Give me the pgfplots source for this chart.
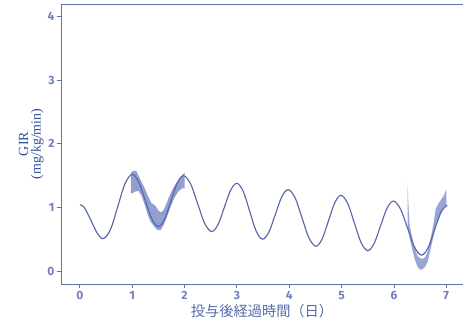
\documentclass[border=0pt]{standalone}
\usepackage{fontspec}
\setmainfont{Liberation Serif}
\newfontfamily\tickfont{Fira Sans}
\newfontfamily\cjk{Noto Sans CJK JP}
\usepackage{pgfplots}
\pgfplotsset{compat=1.18}
\definecolor{lineC}{HTML}{5868AA}
\definecolor{bandC}{HTML}{7787C5}
\definecolor{axisC}{HTML}{5F6FAD}
\definecolor{tickC}{HTML}{7080BA}
\definecolor{ylabC}{HTML}{2F4D9E}
\definecolor{xlabC}{HTML}{5668A8}
\begin{document}
\begin{tikzpicture}
\begin{axis}[
  scale only axis, width=402bp, height=280bp,
  xmin=-0.36, xmax=7.32, ymin=-0.204, ymax=4.198,
  axis x line*=box, axis y line*=left,
  xtick pos=lower, ytick pos=left,
  axis line style={axisC, line width=0.9pt},
  xtick={0,1,2,3,4,5,6,7}, ytick={0,1,2,3,4},
  tick align=outside, major tick length=4bp,
  tick style={axisC, line width=0.8pt},
  /pgf/number format/assume math mode=true,
  ticklabel style={font=\tickfont\bfseries\fontsize{12}{13}\selectfont, text=tickC},
  yticklabel style={xshift=1bp},
  xlabel={\cjk 投与後経過時間（日）},
  xlabel style={font=\fontsize{14.3}{16}\selectfont, text=xlabC, yshift=3bp},
  ylabel={GIR\\(mg/kg/min)},
  ylabel style={align=center, font=\fontsize{14}{12.5}\selectfont, text=ylabC, yshift=-3bp},
  clip=true,
]
% band 1
\addplot[fill=bandC, fill opacity=0.8, draw=none] coordinates {
(0.975,1.55) (1.03,1.58) (1.08,1.57) (1.12,1.50) (1.18,1.40) (1.24,1.30) (1.30,1.18) (1.36,1.08) (1.40,1.05) (1.45,1.02) (1.50,0.95) (1.55,0.92) (1.60,0.96) (1.65,1.05) (1.70,1.16) (1.75,1.25) (1.80,1.33) (1.88,1.43) (1.95,1.50) (2.00,1.55)
(2.00,1.30) (1.95,1.30) (1.88,1.25) (1.80,1.14) (1.75,1.04) (1.70,0.93) (1.65,0.82) (1.60,0.72) (1.55,0.65) (1.50,0.64) (1.45,0.67) (1.40,0.72) (1.35,0.78) (1.30,0.88) (1.24,1.04) (1.18,1.18) (1.12,1.26) (1.06,1.25) (1.00,1.22) (0.975,1.22)
} -- cycle;
% band 2
\addplot[fill=bandC, fill opacity=0.75, draw=none] coordinates {
(6.26,1.38) (6.28,1.00) (6.30,0.72) (6.35,0.52) (6.40,0.36) (6.45,0.24) (6.50,0.20) (6.55,0.19) (6.60,0.22) (6.65,0.32) (6.70,0.50) (6.75,0.72) (6.80,0.98) (6.85,1.06) (6.90,1.12) (6.95,1.18) (7.00,1.28)
(7.00,1.02) (6.95,0.98) (6.90,0.90) (6.85,0.80) (6.80,0.70) (6.75,0.52) (6.70,0.34) (6.65,0.16) (6.60,0.07) (6.55,0.03) (6.50,0.02) (6.45,0.07) (6.40,0.18) (6.35,0.34) (6.30,0.52) (6.27,0.65) (6.26,0.70)
} -- cycle;
% main curve
\addplot[lineC, line width=1.15pt, smooth, tension=0.55] coordinates {
(0,1.04) (0.04,1.032) (0.08,1.005) (0.1125,0.962) (0.225,0.775) (0.3375,0.588) (0.45,0.51)
(0.5875,0.658) (0.725,1.015) (0.8625,1.372) (1.00,1.52)
(1.125,1.400) (1.25,1.11) (1.375,0.820) (1.50,0.70)
(1.62,0.817) (1.74,1.10) (1.86,1.383) (1.98,1.50)
(2.115,1.371) (2.25,1.06) (2.385,0.749) (2.52,0.62)
(2.64,0.731) (2.76,1.00) (2.88,1.269) (3.00,1.38)
(3.1225,1.251) (3.245,0.94) (3.3675,0.629) (3.49,0.50)
(3.6125,0.614) (3.735,0.89) (3.8575,1.166) (3.98,1.28)
(4.1125,1.150) (4.245,0.835) (4.3775,0.520) (4.51,0.39)
(4.63,0.507) (4.75,0.79) (4.87,1.073) (4.99,1.19)
(5.1175,1.063) (5.245,0.755) (5.3725,0.447) (5.50,0.32)
(5.6225,0.434) (5.745,0.71) (5.8675,0.986) (5.99,1.10)
(6.125,0.976) (6.26,0.675) (6.395,0.374) (6.53,0.25)
(6.6525,0.366) (6.775,0.645) (6.8975,0.924) (7.02,1.04)
};
\end{axis}
\pgfresetboundingbox
\path[use as bounding box] ([xshift=-61bp,yshift=-40bp]current axis.south west) rectangle ([yshift=4bp]current axis.north east);
\end{tikzpicture}
\end{document}
